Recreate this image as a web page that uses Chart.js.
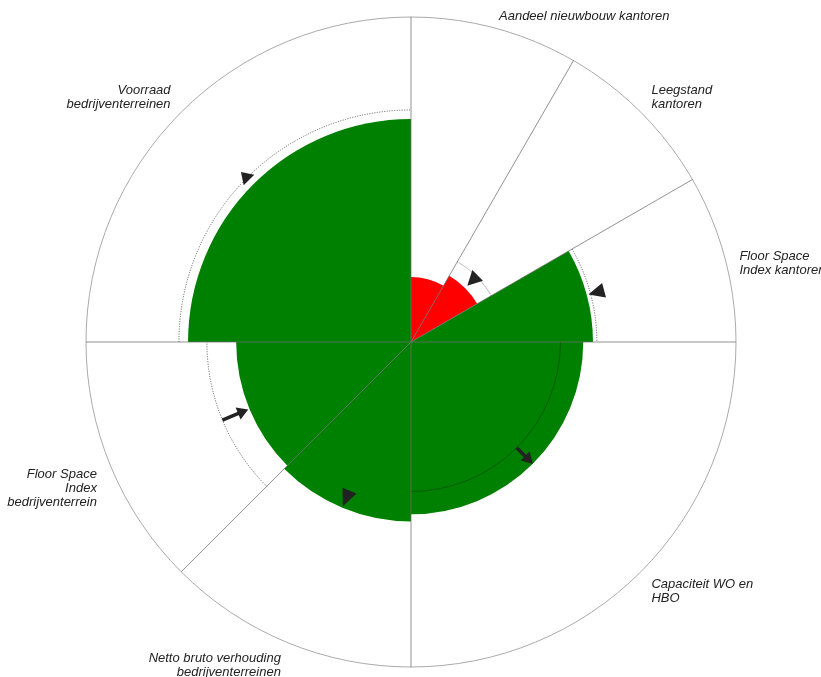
<!DOCTYPE html>
<html>
<head>
<meta charset="utf-8">
<script src="https://cdn.jsdelivr.net/npm/chart.js@4.4.0/dist/chart.umd.min.js"></script>
<style>
  html, body { margin: 0; padding: 0; background: #fff; }
  #wrap { width: 821px; height: 677px; }
</style>
</head>
<body>
<div id="wrap"><canvas id="rose"></canvas></div>
<script>
// indicator names (multi-line labels), clockwise from the top
const categories = [
  ['Aandeel nieuwbouw kantoren'],
  ['Leegstand', 'kantoren'],
  ['Floor Space', 'Index kantoren'],
  ['Capaciteit WO en', 'HBO'],
  ['Netto bruto verhouding', 'bedrijventerreinen'],
  ['Floor Space', 'Index', 'bedrijventerrein'],
  ['Voorraad', 'bedrijventerreinen']
];
const scores = [20, 23.5, 56, 53, 55.2, 53.8, 68.6];      // current score (0-100)
const sliceAngles = [30, 30, 30, 90, 45, 45, 90];        // degrees per indicator
const status = ['bad', 'bad', 'good', 'good', 'good', 'good', 'good'];
const targets = [null, 28.5, 57.2, 46, null, 62.8, 71.4]; // reference ring
const arrowFrom = [null, 29, 61.5, 46, 49.5, 62.8, 70.5];
const arrowTo = [null, 24.5, 56.5, 53, 54.8, 54.2, 74];

const statusColor = { good: '#008000', bad: '#ff0000' };

const overlay = {
  id: 'overlay',
  afterDatasetsDraw(chart) {
    const ctx = chart.ctx;
    const scale = chart.scales.r;
    const cx = scale.xCenter, cy = scale.yCenter, R = scale.drawingArea;
    const arcs = chart.getDatasetMeta(0).data;
    const pt = (a, d) => [cx + d * Math.cos(a), cy + d * Math.sin(a)];

    ctx.save();
    // sector boundaries
    ctx.strokeStyle = 'rgba(110,110,110,0.75)';
    ctx.lineWidth = 1;
    arcs.forEach(arc => {
      const [x, y] = pt(arc.startAngle, R);
      ctx.beginPath();
      ctx.moveTo(cx, cy);
      ctx.lineTo(x, y);
      ctx.stroke();
    });

    // reference rings
    arcs.forEach((arc, i) => {
      if (targets[i] == null) return;
      const d = scale.getDistanceFromCenterForValue(targets[i]);
      ctx.beginPath();
      if (targets[i] < scores[i]) {
        ctx.setLineDash([]);
        ctx.strokeStyle = 'rgba(0,30,0,0.35)';
      } else {
        ctx.setLineDash([1, 1.5]);
        ctx.strokeStyle = '#555';
      }
      ctx.arc(cx, cy, d, arc.startAngle, arc.endAngle);
      ctx.stroke();
    });
    ctx.setLineDash([]);

    // change arrows
    ctx.fillStyle = '#222';
    ctx.strokeStyle = '#222';
    arcs.forEach((arc, i) => {
      if (arrowFrom[i] == null) return;
      const a = (arc.startAngle + arc.endAngle) / 2;
      const d0 = scale.getDistanceFromCenterForValue(arrowFrom[i]);
      const d1 = scale.getDistanceFromCenterForValue(arrowTo[i]);
      const [x0, y0] = pt(a, d0);
      const [x1, y1] = pt(a, d1);
      const len = Math.hypot(x1 - x0, y1 - y0);
      const ux = (x1 - x0) / len, uy = (y1 - y0) / len;
      const nx = -uy, ny = ux;
      if (len > 18) {
        const head = 11, hw = 6.5;
        const bx = x1 - ux * head, by = y1 - uy * head;
        ctx.lineWidth = 3.5;
        ctx.beginPath();
        ctx.moveTo(x0, y0);
        ctx.lineTo(bx + ux, by + uy);
        ctx.stroke();
        ctx.beginPath();
        ctx.moveTo(x1, y1);
        ctx.lineTo(bx + nx * hw, by + ny * hw);
        ctx.lineTo(bx - nx * hw, by - ny * hw);
        ctx.closePath();
        ctx.fill();
      } else {
        const hw = 7.5;
        ctx.beginPath();
        ctx.moveTo(x1, y1);
        ctx.lineTo(x0 + nx * hw, y0 + ny * hw);
        ctx.lineTo(x0 - nx * hw, y0 - ny * hw);
        ctx.closePath();
        ctx.fill();
      }
    });

    // labels outside the circle
    ctx.font = 'italic 13px "Liberation Sans", Arial, sans-serif';
    ctx.fillStyle = '#222';
    ctx.textBaseline = 'middle';
    const lh = 14;
    arcs.forEach((arc, i) => {
      const a = (arc.startAngle + arc.endAngle) / 2;
      const [x, y] = pt(a, R + 15);
      const lines = categories[i];
      ctx.textAlign = Math.cos(a) < 0 ? 'right' : 'left';
      const upper = -Math.sin(a) > 0.5;
      lines.forEach((t, k) => {
        const ty = upper ? y - (lines.length - 1 - k) * lh + 3 : y + 2 + k * lh;
        ctx.fillText(t, x, ty);
      });
    });
    ctx.restore();
  }
};

new Chart(document.getElementById('rose'), {
  type: 'polarArea',
  data: {
    labels: categories,
    datasets: [{
      data: scores,
      backgroundColor: status.map(s => statusColor[s]),
      borderWidth: 0,
      angle: c => sliceAngles[c.dataIndex]
    }]
  },
  options: {
    responsive: true,
    maintainAspectRatio: false,
    animation: false,
    layout: { padding: { top: 17, bottom: 10, left: 86, right: 85 } },
    plugins: { legend: { display: false }, tooltip: { enabled: false } },
    scales: {
      r: {
        min: 0,
        max: 100,
        startAngle: 0,
        ticks: { display: false, stepSize: 100 },
        grid: { color: '#aaa', lineWidth: 1 },
        angleLines: { display: false },
        pointLabels: { display: false }
      }
    }
  },
  plugins: [overlay]
});
</script>
</body>
</html>
